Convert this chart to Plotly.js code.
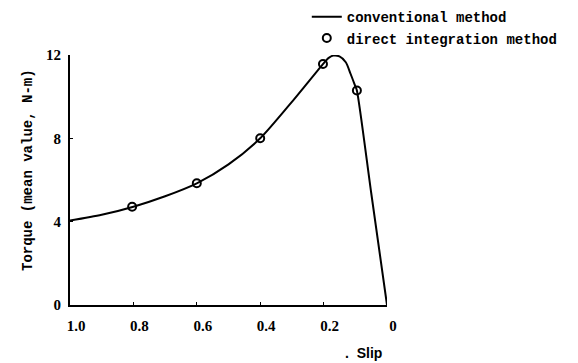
<!DOCTYPE html>
<html>
<head>
<meta charset="utf-8">
<script src="https://cdn.plot.ly/plotly-3.0.1.min.js"></script>
<style>html,body{margin:0;padding:0;background:#fff;}#chart{width:578px;height:363px;}</style>
</head>
<body>
<div id="chart"></div>
<script>
// Conventional method curve (slip, torque N-m)
const curveSlip   = [1.0, 0.9, 0.8, 0.7, 0.6, 0.5, 0.4, 0.3, 0.2, 0.185, 0.17, 0.15, 0.13, 0.115, 0.1, 0.095, 0.05, 0.0];
const curveTorque = [4.05, 4.33, 4.72, 5.22, 5.84, 6.75, 8.0, 9.75, 11.6, 11.85, 11.97, 11.93, 11.65, 11.1, 10.5, 10.3, 5.4, 0.0];
// Direct integration method points
const pointSlip   = [0.804, 0.60, 0.40, 0.202, 0.095];
const pointTorque = [4.72, 5.84, 8.0, 11.57, 10.3];
// Tick labels
const xTickVals = [1.0, 0.8, 0.6, 0.4, 0.2, 0];
const xTickText = ['1.0', '0.8', '0.6', '0.4', '0.2', '0'];
const yTickVals = [0, 4, 8, 12];
const yTickText = ['0', '4', '8', '12'];

const mono = '"Liberation Mono", "DejaVu Sans Mono", monospace';
const serif = '"Liberation Serif", "DejaVu Serif", serif';

const traces = [
  {x: curveSlip, y: curveTorque, mode: 'lines', name: 'conventional method',
   line: {color: '#000', width: 2, shape: 'spline', smoothing: 0.7}, legendgroup: 'a'},
  {x: pointSlip, y: pointTorque, mode: 'markers', name: 'direct integration method',
   marker: {symbol: 'circle-open', size: 8, color: '#000', line: {width: 2, color: '#000'}}, legendgroup: 'b'}
];

const layout = {
  width: 578, height: 363,
  margin: {l: 70, r: 191, t: 55, b: 58, autoexpand: false},
  paper_bgcolor: '#fff', plot_bgcolor: '#fff',
  showlegend: true,
  legend: {x: 0.747, y: 1.215, xanchor: 'left', yanchor: 'top', traceorder: 'grouped', tracegroupgap: 0,
           font: {family: mono, size: 14, color: '#000', weight: 'bold'}, bgcolor: 'rgba(0,0,0,0)', itemwidth: 30},
  xaxis: {range: [1, 0], tickvals: xTickVals, ticktext: xTickText, showgrid: false, zeroline: false,
          showline: true, linecolor: '#000', linewidth: 2, ticks: 'inside', ticklen: 3, tickcolor: '#000',
          ticklabelshift: -6, ticklabelstandoff: 6,
          tickfont: {family: serif, size: 15, color: '#000', weight: 'bold'}},
  yaxis: {range: [0, 12], tickvals: yTickVals, ticktext: yTickText, showgrid: false, zeroline: false,
          showline: true, linecolor: '#000', linewidth: 2, ticks: 'inside', ticklen: 3, tickcolor: '#000',
          ticklabelstandoff: 4,
          tickfont: {family: serif, size: 15, color: '#000', weight: 'bold'}},
  annotations: [
    {text: 'Torque (mean value, N-m)', xref: 'paper', yref: 'paper', x: -0.1325, y: 0.54, textangle: -90,
     showarrow: false, xanchor: 'center', yanchor: 'middle', font: {family: mono, size: 14, color: '#000', weight: 'bold'}},
    {text: '.  Slip', xref: 'paper', yref: 'paper', x: (384 - 70) / 317, y: (305 - 353) / 250,
     showarrow: false, xanchor: 'right', yanchor: 'middle', font: {family: '"Liberation Sans", Arial, sans-serif', size: 14, color: '#000', weight: 'bold'}}
  ]
};

Plotly.newPlot('chart', traces, layout, {displayModeBar: false, staticPlot: true});
</script>
</body>
</html>
